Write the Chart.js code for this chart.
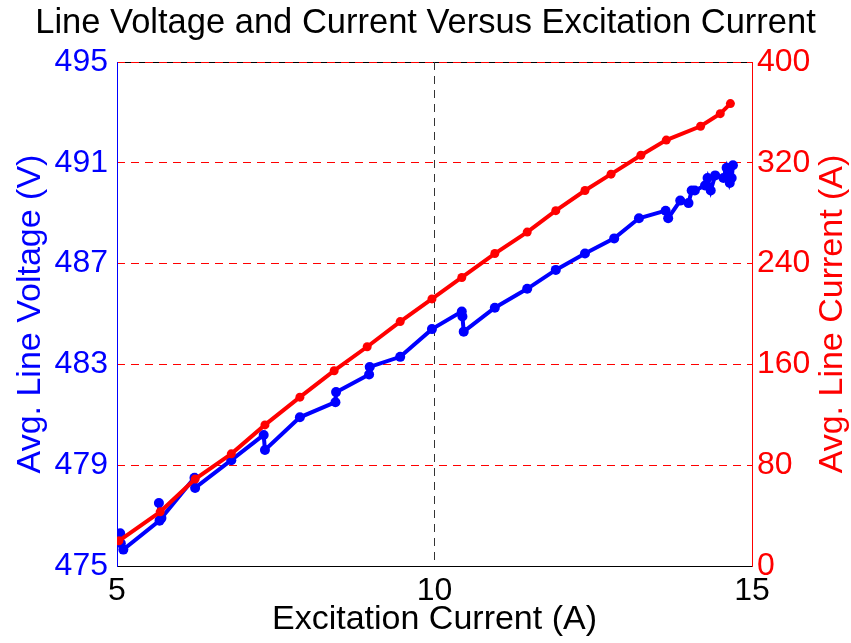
<!DOCTYPE html>
<html><head><meta charset="utf-8">
<script src="https://cdn.jsdelivr.net/npm/chart.js@4/dist/chart.umd.min.js"></script>
<style>html,body{margin:0;padding:0;background:#fff}#wrap{width:851px;height:643px;position:relative}</style>
</head><body><div id="wrap"><canvas id="c"></canvas></div>
<script>
// Excitation current (A) and average line voltage (V)
const voltageX = [5.05, 5.06, 5.10, 5.67, 5.66, 5.70, 6.22, 6.23, 6.80, 7.31, 7.33, 7.88, 8.44, 8.45, 8.97, 8.98, 9.46, 9.96, 10.43, 10.44, 10.46, 10.95, 11.46, 11.91, 12.37, 12.83, 13.22, 13.64, 13.68, 13.87, 14.00, 14.05, 14.10, 14.26, 14.30, 14.35, 14.42, 14.55, 14.60, 14.62, 14.65, 14.68, 14.70];
const voltageY = [476.3, 475.9, 475.65, 476.8, 477.5, 476.9, 478.5, 478.1, 479.2, 480.2, 479.6, 480.9, 481.5, 481.9, 482.6, 482.9, 483.3, 484.4, 485.1, 484.9, 484.3, 485.25, 486.0, 486.75, 487.4, 488.0, 488.8, 489.1, 488.8, 489.5, 489.4, 489.9, 489.9, 490.1, 490.4, 489.9, 490.5, 490.4, 490.8, 490.6, 490.2, 490.4, 490.9];
// Excitation current (A) and average line current (A)
const currentX = [5.03, 5.68, 6.23, 6.80, 7.33, 7.88, 8.42, 8.94, 9.46, 9.96, 10.43, 10.95, 11.46, 11.91, 12.37, 12.78, 13.25, 13.65, 14.19, 14.50, 14.66];
const currentY = [20, 43, 69, 89, 112, 134, 155, 174, 194, 212, 229, 248, 265, 282, 298, 311, 326, 338, 349, 359, 367];
const xTickValues = [5, 10, 15];
const leftTickValues = [475, 479, 483, 487, 491, 495];
const rightTickValues = [0, 80, 160, 240, 320, 400];
const rightTitle = 'Avg. Line Current (A)';

const FONT = "'Liberation Sans', Arial, sans-serif";
const pts = (xs, ys) => xs.map((x, i) => ({x: x, y: ys[i]}));

const frame = {
  id: 'frame',
  beforeDraw(chart) {
    const {ctx, chartArea: a} = chart;
    ctx.save();
    ctx.strokeStyle = '#000';
    ctx.lineWidth = 1;
    ctx.beginPath();
    ctx.moveTo(a.left, Math.round(a.top) + 0.5);
    ctx.lineTo(a.right, Math.round(a.top) + 0.5);
    ctx.stroke();
    ctx.restore();
  },
  afterDraw(chart) {
    const {ctx, chartArea: a} = chart;
    ctx.save();
    ctx.translate(842, (a.top + a.bottom) / 2);
    ctx.rotate(-Math.PI / 2);
    ctx.font = "34px " + FONT;
    ctx.fillStyle = '#ff0000';
    ctx.textAlign = 'center';
    ctx.textBaseline = 'alphabetic';
    ctx.fillText(rightTitle, 0, 0);
    ctx.restore();
  }
};

new Chart(document.getElementById('c'), {
  type: 'scatter',
  data: {
    datasets: [
      {
        label: 'Avg. Line Current (A)',
        data: pts(currentX, currentY),
        yAxisID: 'y1',
        showLine: true,
        borderColor: '#ff0000',
        backgroundColor: '#ff0000',
        borderWidth: 4,
        pointRadius: 4.5,
        pointBorderWidth: 0,
        tension: 0
      },
      {
        label: 'Avg. Line Voltage (V)',
        data: pts(voltageX, voltageY),
        yAxisID: 'y',
        showLine: true,
        borderColor: '#0000ff',
        backgroundColor: '#0000ff',
        borderWidth: 4,
        pointRadius: 5,
        pointBorderWidth: 0,
        tension: 0
      }
    ]
  },
  options: {
    responsive: true,
    maintainAspectRatio: false,
    animation: false,
    layout: {padding: 0, autoPadding: false},
    plugins: {
      legend: {display: false},
      tooltip: {enabled: false},
      title: {
        display: true,
        text: 'Line Voltage and Current Versus Excitation Current',
        color: '#000',
        font: {family: FONT, size: 34.5, weight: 'normal', lineHeight: 1.2},
        padding: {top: 3, bottom: 17.6}
      }
    },
    scales: {
      x: {
        type: 'linear',
        min: 5, max: 15,
        afterBuildTicks: s => { s.ticks = xTickValues.map(v => ({value: v})); },
        afterFit: s => { s.height = 77; },
        ticks: {color: '#000', font: {family: FONT, size: 32}, padding: 6, maxRotation: 0},
        grid: {
          drawTicks: false,
          lineWidth: 1,
          color: c => (c.tick && c.tick.value === 10) ? '#333333' : 'rgba(0,0,0,0)'
        },
        border: {display: true, color: '#000', width: 1, dash: [8, 6]},
        title: {display: true, text: 'Excitation Current (A)', color: '#000', font: {family: FONT, size: 34}, padding: {top: 0, bottom: 3}}
      },
      y: {
        type: 'linear',
        position: 'left',
        min: 475, max: 495,
        afterBuildTicks: s => { s.ticks = leftTickValues.map(v => ({value: v})); },
        afterFit: s => { s.width = 117; },
        ticks: {color: '#0000ff', font: {family: FONT, size: 32}, padding: 9},
        grid: {display: false, drawTicks: false},
        border: {display: true, color: '#0000ff', width: 1},
        title: {display: true, text: 'Avg. Line Voltage (V)', color: '#0000ff', font: {family: FONT, size: 34}, padding: {top: 10, bottom: 0}}
      },
      y1: {
        type: 'linear',
        position: 'right',
        min: 0, max: 400,
        afterBuildTicks: s => { s.ticks = rightTickValues.map(v => ({value: v})); },
        afterFit: s => { s.width = 99; },
        ticks: {color: '#ff0000', font: {family: FONT, size: 32}, padding: 5},
        grid: {drawTicks: false, color: '#ff0000', lineWidth: 1},
        border: {display: true, color: '#ff0000', width: 1, dash: [8, 6]},
        title: {display: false}
      }
    }
  },
  plugins: [frame]
});
</script>
</body></html>
